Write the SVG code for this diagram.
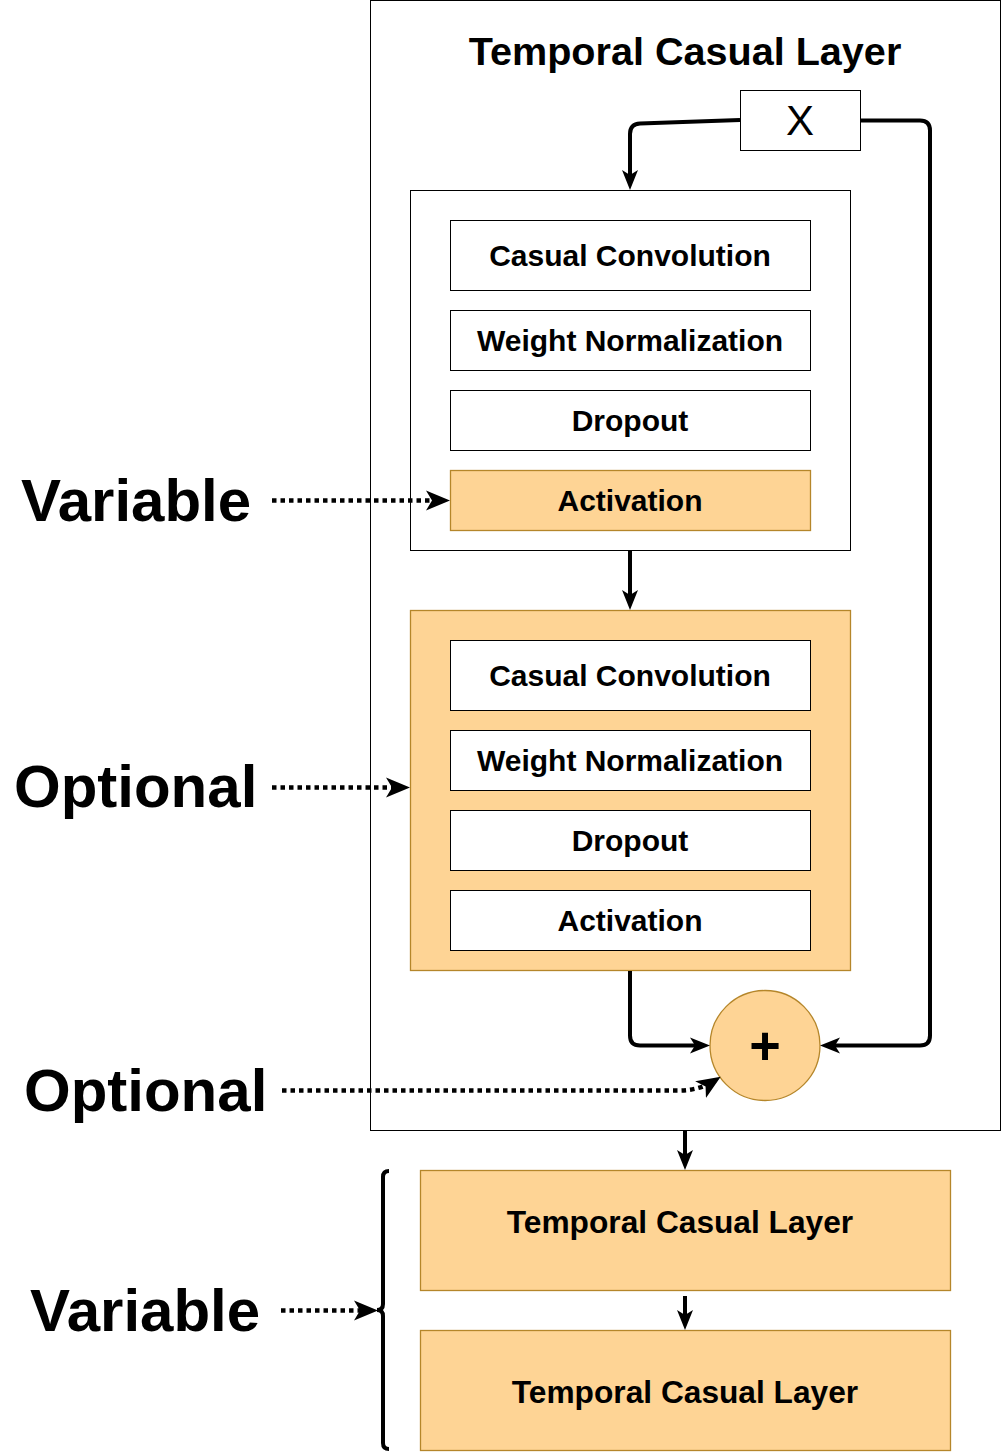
<svg xmlns="http://www.w3.org/2000/svg" width="1001" height="1453" viewBox="0 0 1001 1453">
<style>
text{font-family:"Liberation Sans",Arial,sans-serif;fill:#000}
.b{font-weight:bold;text-anchor:middle}
.t{font-size:30px}
.lbl{font-weight:bold;font-size:60px}
.box{fill:#fff;stroke:#000;stroke-width:1}
.org{fill:#fed495;stroke:#b5862a;stroke-width:1.3}
.wire{fill:none;stroke:#000;stroke-width:4;stroke-linejoin:round}
.dot{fill:none;stroke:#000;stroke-width:4.5;stroke-dasharray:4.5 4}
</style>
<defs>
<marker id="ah" viewBox="0 0 20 20" refX="12" refY="10" markerWidth="20" markerHeight="20" markerUnits="userSpaceOnUse" orient="auto">
<path d="M0,2 L20,10 L0,18 L5,10 z" fill="#000"/>
</marker>
<marker id="ahd" viewBox="0 0 24 24" refX="16" refY="12" markerWidth="24" markerHeight="24" markerUnits="userSpaceOnUse" orient="auto">
<path d="M0,2 L24,12 L0,22 L6,12 z" fill="#000"/>
</marker>
</defs>
<rect width="1001" height="1453" fill="#fff"/>

<g id="outer">
<rect x="370.5" y="0.5" width="630" height="1130" class="box"/>
<text x="685" y="65" class="b" font-size="39.6">Temporal Casual Layer</text>
</g>

<g id="x-node">
<rect x="740.5" y="90.5" width="120" height="60" class="box"/>
<text x="800" y="135" text-anchor="middle" font-size="42">X</text>
</g>

<g id="block1">
<rect x="410.5" y="190.5" width="440" height="360" class="box"/>
</g>
<g id="b1-conv"><rect x="450.5" y="220.5" width="360" height="70" class="box"/><text x="630" y="266" class="b t">Casual Convolution</text></g>
<g id="b1-wn"><rect x="450.5" y="310.5" width="360" height="60" class="box"/><text x="630" y="351" class="b t">Weight Normalization</text></g>
<g id="b1-drop"><rect x="450.5" y="390.5" width="360" height="60" class="box"/><text x="630" y="431" class="b t">Dropout</text></g>
<g id="b1-act"><rect x="450.5" y="470.5" width="360" height="60" class="org"/><text x="630" y="511" class="b t">Activation</text></g>

<g id="block2">
<rect x="410.5" y="610.5" width="440" height="360" class="org"/>
</g>
<g id="b2-conv"><rect x="450.5" y="640.5" width="360" height="70" class="box"/><text x="630" y="686" class="b t">Casual Convolution</text></g>
<g id="b2-wn"><rect x="450.5" y="730.5" width="360" height="60" class="box"/><text x="630" y="771" class="b t">Weight Normalization</text></g>
<g id="b2-drop"><rect x="450.5" y="810.5" width="360" height="60" class="box"/><text x="630" y="851" class="b t">Dropout</text></g>
<g id="b2-act"><rect x="450.5" y="890.5" width="360" height="60" class="box"/><text x="630" y="931" class="b t">Activation</text></g>

<g id="plus">
<circle cx="765" cy="1045.5" r="55" class="org"/>
<text x="765" y="1064" class="b" font-size="54">+</text>
</g>

<g id="layer1"><rect x="420.5" y="1170.5" width="530" height="120" class="org"/><text x="680" y="1233" class="b" font-size="31.7">Temporal Casual Layer</text></g>
<g id="layer2"><rect x="420.5" y="1330.5" width="530" height="120" class="org"/><text x="685" y="1403" class="b" font-size="31.7">Temporal Casual Layer</text></g>

<g id="labels">
<text x="21" y="521" class="lbl">Variable</text>
<text x="14" y="807" class="lbl">Optional</text>
<text x="24" y="1111" class="lbl">Optional</text>
<text x="30" y="1331" class="lbl">Variable</text>
</g>

<g id="brace">
<path d="M389,1171 Q383,1171 383,1177 L383,1304 Q383,1310 377,1310 Q383,1310 383,1316 L383,1443 Q383,1449 389,1449" fill="none" stroke="#000" stroke-width="4"/>
</g>

<g id="connectors">
<path d="M740,120 L640,123.5 Q630,124 630,134 L630,182" class="wire" marker-end="url(#ah)"/>
<path d="M860,120.5 L920,120.5 Q930,120.5 930,130.5 L930,1035.5 Q930,1045.5 920,1045.5 L828,1045.5" class="wire" marker-end="url(#ah)"/>
<path d="M630,551 L630,602" class="wire" marker-end="url(#ah)"/>
<path d="M630,971 L630,1035.5 Q630,1045.5 640,1045.5 L702,1045.5" class="wire" marker-end="url(#ah)"/>
<path d="M685,1131 L685,1162" class="wire" marker-end="url(#ah)"/>
<path d="M685,1296 L685,1322" class="wire" marker-end="url(#ah)"/>
<path d="M272,500.5 L442,500.5" class="dot" marker-end="url(#ahd)"/>
<path d="M272,787.5 L402,787.5" class="dot" marker-end="url(#ahd)"/>
<path d="M282,1090.5 L680,1090.5 Q700,1090 714,1081" class="dot" marker-end="url(#ahd)"/>
<path d="M281,1310.5 L370,1310.5" class="dot" marker-end="url(#ahd)"/>
</g>
</svg>
